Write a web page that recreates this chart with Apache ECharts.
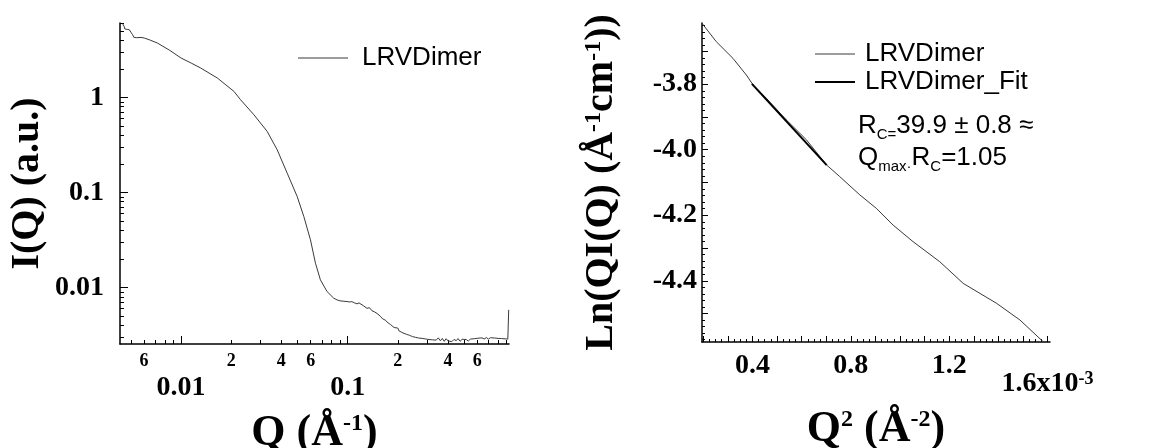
<!DOCTYPE html>
<html>
<head>
    <title>LRVDimer SAXS</title>
    <script src="https://cdn.jsdelivr.net/npm/echarts/dist/echarts.min.js"></script>
</head>
<body style="margin:0; background:#fff;">
    <div id="chart" style="width: 1150px; height: 448px;"></div>
    <script type="text/javascript">
        // I(Q) vs Q (log-log)
        const iqQ = [0.00446, 0.00455, 0.00460, 0.00475, 0.00489, 0.00500, 0.00512, 0.00520, 0.00528, 0.00538,
            0.00548, 0.00575, 0.00601, 0.00650, 0.00722, 0.0085, 0.0100, 0.0115, 0.01312, 0.01652,
            0.02078, 0.02276, 0.02736, 0.03289, 0.03776, 0.04335, 0.04977, 0.05455, 0.05980, 0.06409,
            0.06862, 0.07523, 0.08250, 0.0864, 0.0900, 0.0950, 0.0991, 0.1030, 0.1060, 0.1100,
            0.1138, 0.1170, 0.1200, 0.1250, 0.1306, 0.1350, 0.1400, 0.1450, 0.1500, 0.1570,
            0.1620, 0.1680, 0.1750, 0.1803, 0.1850, 0.1900, 0.1950,
            0.2000, 0.2035, 0.2069, 0.2100, 0.2140, 0.2180, 0.2220, 0.2260, 0.2300, 0.2350,
            0.2400, 0.2450, 0.2485, 0.2550, 0.2600, 0.2660, 0.2720, 0.2800, 0.2870, 0.2940,
            0.3000, 0.3080, 0.3150, 0.3230, 0.3320, 0.3400, 0.3500, 0.3600, 0.3700, 0.3800,
            0.3900, 0.4000, 0.4100, 0.4220, 0.4350, 0.4480, 0.4600, 0.4730, 0.4870, 0.5000,
            0.5150, 0.5300, 0.5450, 0.5600, 0.5750, 0.5900, 0.6050, 0.6200, 0.6400, 0.6600,
            0.6800, 0.7000, 0.7200, 0.7400, 0.7600, 0.7800, 0.8000, 0.8200, 0.8400, 0.8600,
            0.8800, 0.9000, 0.9150, 0.9250, 0.9260];
        const iqI = [5.97, 5.60, 5.25, 5.20, 5.16, 4.85, 4.57, 4.30, 4.12, 4.25,
            4.32, 4.28, 4.22, 4.02, 3.73, 3.15, 2.60, 2.30, 2.04, 1.60,
            1.157, 0.946, 0.658, 0.439, 0.2814, 0.160, 0.0908, 0.0560, 0.0318, 0.01806,
            0.01205, 0.00908, 0.00773, 0.00742, 0.00725, 0.00718, 0.00713, 0.00705, 0.00712, 0.00690,
            0.00674, 0.00690, 0.00660, 0.00640, 0.00605, 0.00615, 0.00570, 0.00555, 0.00535, 0.00500,
            0.00470, 0.00455, 0.00425, 0.00410, 0.00395, 0.00380, 0.00368,
            0.00375, 0.00350, 0.00362, 0.00340, 0.00352, 0.00330, 0.00345, 0.00322, 0.00335, 0.00315,
            0.00328, 0.00305, 0.00318, 0.00300, 0.00312, 0.00295, 0.00308, 0.00292, 0.00303, 0.00288,
            0.00300, 0.00284, 0.00297, 0.00282, 0.00294, 0.00280, 0.00296, 0.00276, 0.00292, 0.00272,
            0.00290, 0.00275, 0.00288, 0.00270, 0.00285, 0.00276, 0.00291, 0.00272, 0.00286, 0.00276,
            0.00284, 0.00274, 0.00287, 0.00278, 0.00290, 0.00280, 0.00293, 0.00284, 0.00296, 0.00288,
            0.00298, 0.00287, 0.00297, 0.00286, 0.00295, 0.00284, 0.00292, 0.00283, 0.00291, 0.00281,
            0.00289, 0.00280, 0.00287, 0.00285, 0.00583];

        // Guinier-type plot Ln(Q I(Q)) vs Q^2 (x 1e-3)
        const q2 = [0.195, 0.253, 0.321, 0.3755, 0.4026, 0.457, 0.538, 0.620, 0.701, 0.755,
            0.837, 0.904, 0.972, 1.053, 1.162, 1.257, 1.393, 1.488, 1.582];
        const lnQI = [-3.614, -3.670, -3.721, -3.772, -3.802, -3.843, -3.909, -3.970, -4.046, -4.082,
            -4.138, -4.179, -4.230, -4.2805, -4.342, -4.408, -4.469, -4.520, -4.586];
        const fitQ2 = [0.398, 0.702];
        const fitLn = [-3.799, -4.047];

        // tick labels / tick positions
        const logMinorX = [0.005, 0.006, 0.007, 0.008, 0.009, 0.02, 0.03, 0.04, 0.05, 0.06, 0.07, 0.08, 0.09,
            0.2, 0.3, 0.4, 0.5, 0.6, 0.7, 0.8, 0.9];
        const logSmallLabelsX = [0.006, 0.02, 0.04, 0.06, 0.2, 0.4, 0.6];
        const logDecadesX = [0.01, 0.1];
        const logMinorY = [0.003, 0.004, 0.005, 0.006, 0.007, 0.008, 0.009, 0.02, 0.03, 0.04, 0.05, 0.06, 0.07, 0.08, 0.09,
            0.2, 0.3, 0.4, 0.5, 0.6, 0.7, 0.8, 0.9, 2, 3, 4, 5, 6];
        const logDecadesY = [0.01, 0.1, 1];
        const q2Labels = [0.4, 0.8, 1.2];
        const q2LastLabel = [1.6];
        const lnLabels = [-3.8, -4.0, -4.2, -4.4];

        function range(a, b, step) {
            const out = [];
            for (let i = 0; a + i * step <= b + 1e-9; i++) out.push(+(a + i * step).toFixed(4));
            return out;
        }
        const q2MinorTicks = range(0.2, 1.6, 0.025);
        const q2MidTicks = range(0.2, 1.6, 0.1);
        const lnMinorTicks = range(-4.58, -3.62, 0.02);
        const lnMidTicks = range(-4.5, -3.7, 0.1);

        const serif = 'Liberation Serif';
        const sans = 'Liberation Sans';
        const black = '#000';

        // legend icons: a horizontal bar inside a box, tiny corner dots fix the box size
        const thinIcon50 = 'path://M0,0H0.01V0.01H0Z M0,4.5H50V5.5H0Z M49.99,9.99H50V10H49.99Z';
        const thinIcon40 = 'path://M0,0H0.01V0.01H0Z M0,4.5H40V5.5H0Z M39.99,9.99H40V10H39.99Z';
        const thickIcon40 = 'path://M0,0H0.01V0.01H0Z M0,4H40V6H0Z M39.99,9.99H40V10H39.99Z';

        const supRich = {
            sup: { fontFamily: serif, fontWeight: 'bold', fontSize: 24, color: black, verticalAlign: 'top', padding: [0, 0, 14, 0] }
        };

        let myChart = echarts.init(document.getElementById('chart'));
        let option = {
            animation: false,
            backgroundColor: '#fff',
            grid: [
                { left: 120, top: 23, width: 389, height: 321, outerBoundsMode: 'none' },
                { left: 702, top: 23, width: 348, height: 319, outerBoundsMode: 'none' }
            ],
            legend: [
                {
                    data: [{ name: 'LRVDimer', icon: thinIcon50 }], left: 293, top: 40, itemWidth: 50, itemHeight: 10, itemGap: 0,
                    textStyle: { fontFamily: sans, fontSize: 26, color: black, padding: [0, 0, 0, 9] }
                },
                {
                    data: [{ name: 'LRVDimer', icon: thinIcon40 }, { name: 'LRVDimer_Fit', icon: thickIcon40 }],
                    left: 810, top: 36, orient: 'vertical', itemWidth: 40, itemHeight: 10, itemGap: 2,
                    textStyle: { fontFamily: sans, fontSize: 26, color: black, padding: [0, 0, 0, 5] }
                }
            ],
            title: {
                left: 853, top: 105,
                text: 'R{s|C=}39.9 ± 0.8 ≈\nQ{s|max·}R{s|C}=1.05',
                textStyle: {
                    fontFamily: sans, fontSize: 26, fontWeight: 'normal', color: black, lineHeight: 32,
                    rich: { s: { fontFamily: sans, fontSize: 15, color: black, verticalAlign: 'bottom', lineHeight: 24 } }
                }
            },
            xAxis: [
                {
                    type: 'log', gridIndex: 0, position: 'bottom', min: 0.0043, max: 0.93,
                    axisLine: { show: true, lineStyle: { color: black, width: 1.5 } },
                    axisTick: { show: true, inside: true, length: 4, customValues: logMinorX, lineStyle: { color: black } },
                    axisLabel: {
                        customValues: logSmallLabelsX, margin: 8, fontFamily: serif, fontWeight: 'bold', fontSize: 18, color: black,
                        formatter: v => String(Math.round(v / Math.pow(10, Math.floor(Math.log10(v) + 1e-9))))
                    },
                    splitLine: { show: false }, minorTick: { show: false }
                },
                {
                    type: 'log', gridIndex: 0, position: 'bottom', min: 0.0043, max: 0.93,
                    axisLine: { show: false },
                    axisTick: { show: true, inside: true, length: 8, customValues: logDecadesX, lineStyle: { color: black } },
                    axisLabel: {
                        customValues: logDecadesX, margin: 30, fontFamily: serif, fontWeight: 'bold', fontSize: 28, color: black,
                        formatter: v => String(v)
                    },
                    splitLine: { show: false },
                    name: 'Q (Å{sup|-1})', nameLocation: 'middle', nameGap: 68,
                    nameTextStyle: { fontFamily: serif, fontWeight: 'bold', fontSize: 44, color: black, rich: supRich }
                },
                {
                    type: 'value', gridIndex: 1, position: 'bottom', min: 0.195, max: 1.61,
                    axisLine: { show: true, lineStyle: { color: black, width: 1.5 } },
                    axisTick: { show: true, inside: true, length: 3, customValues: q2MinorTicks, lineStyle: { color: black } },
                    axisLabel: { show: false }, splitLine: { show: false }
                },
                {
                    type: 'value', gridIndex: 1, position: 'bottom', min: 0.195, max: 1.61,
                    axisLine: { show: false },
                    axisTick: { show: true, inside: true, length: 6, customValues: q2MidTicks, lineStyle: { color: black } },
                    axisLabel: {
                        customValues: q2Labels, margin: 10, fontFamily: serif, fontWeight: 'bold', fontSize: 28, color: black,
                        formatter: v => v.toFixed(1)
                    },
                    splitLine: { show: false }
                },
                {
                    type: 'value', gridIndex: 1, position: 'bottom', min: 0.195, max: 1.61,
                    axisLine: { show: false }, axisTick: { show: false },
                    axisLabel: {
                        customValues: q2LastLabel, margin: 28, fontFamily: serif, fontWeight: 'bold', fontSize: 28, color: black,
                        formatter: v => v.toFixed(1) + 'x10{sup|-3}',
                        rich: { sup: { fontFamily: serif, fontWeight: 'bold', fontSize: 18, color: black, verticalAlign: 'top', padding: [0, 0, 10, 0] } }
                    },
                    splitLine: { show: false },
                    name: 'Q{sup|2} (Å{sup|-2})', nameLocation: 'middle', nameGap: 66,
                    nameTextStyle: { fontFamily: serif, fontWeight: 'bold', fontSize: 44, color: black, rich: supRich }
                }
            ],
            yAxis: [
                {
                    type: 'log', gridIndex: 0, position: 'left', min: 0.00255, max: 6.07,
                    axisLine: { show: true, lineStyle: { color: black, width: 1.5 } },
                    axisTick: { show: true, inside: true, length: 4, customValues: logMinorY, lineStyle: { color: black } },
                    axisLabel: { show: false }, splitLine: { show: false }
                },
                {
                    type: 'log', gridIndex: 0, position: 'left', min: 0.00255, max: 6.07,
                    axisLine: { show: false },
                    axisTick: { show: true, inside: true, length: 8, customValues: logDecadesY, lineStyle: { color: black } },
                    axisLabel: {
                        customValues: logDecadesY, margin: 16, fontFamily: serif, fontWeight: 'bold', fontSize: 28, color: black,
                        formatter: v => String(v)
                    },
                    splitLine: { show: false },
                    name: 'I(Q) (a.u.)', nameLocation: 'middle', nameGap: 72, nameRotate: 90,
                    nameTextStyle: { fontFamily: serif, fontWeight: 'bold', fontSize: 40, color: black }
                },
                {
                    type: 'value', gridIndex: 1, position: 'left', min: -4.587, max: -3.613,
                    axisLine: { show: true, lineStyle: { color: black, width: 1.5 } },
                    axisTick: { show: true, inside: true, length: 3, customValues: lnMinorTicks, lineStyle: { color: black } },
                    axisLabel: { show: false }, splitLine: { show: false }
                },
                {
                    type: 'value', gridIndex: 1, position: 'left', min: -4.587, max: -3.613,
                    axisLine: { show: false },
                    axisTick: { show: true, inside: true, length: 6, customValues: lnMidTicks, lineStyle: { color: black } },
                    axisLabel: {
                        customValues: lnLabels, margin: 5, fontFamily: serif, fontWeight: 'bold', fontSize: 28, color: black,
                        formatter: v => v.toFixed(1)
                    },
                    splitLine: { show: false },
                    name: 'Ln(QI(Q) (Å{sup|-1}cm{sup|-1}))', nameLocation: 'middle', nameGap: 80, nameRotate: 90,
                    nameTextStyle: { fontFamily: serif, fontWeight: 'bold', fontSize: 40, color: black, rich: supRich }
                }
            ],
            series: [
                {
                    name: 'LRVDimer', type: 'line', xAxisIndex: 0, yAxisIndex: 0,
                    data: iqQ.map((q, i) => [q, iqI[i]]),
                    symbol: 'none', lineStyle: { color: '#3a3a3a', width: 1 }, itemStyle: { color: '#3a3a3a' }
                },
                {
                    name: 'LRVDimer', type: 'line', xAxisIndex: 2, yAxisIndex: 2,
                    data: q2.map((q, i) => [q, lnQI[i]]),
                    symbol: 'none', lineStyle: { color: '#3a3a3a', width: 1 }, itemStyle: { color: '#3a3a3a' }
                },
                {
                    name: 'LRVDimer_Fit', type: 'line', xAxisIndex: 2, yAxisIndex: 2,
                    data: fitQ2.map((q, i) => [q, fitLn[i]]),
                    symbol: 'none', lineStyle: { color: '#000', width: 2 }, itemStyle: { color: '#000' }, z: 3
                }
            ]
        };

        myChart.setOption(option);
    </script>
</body>
</html>
